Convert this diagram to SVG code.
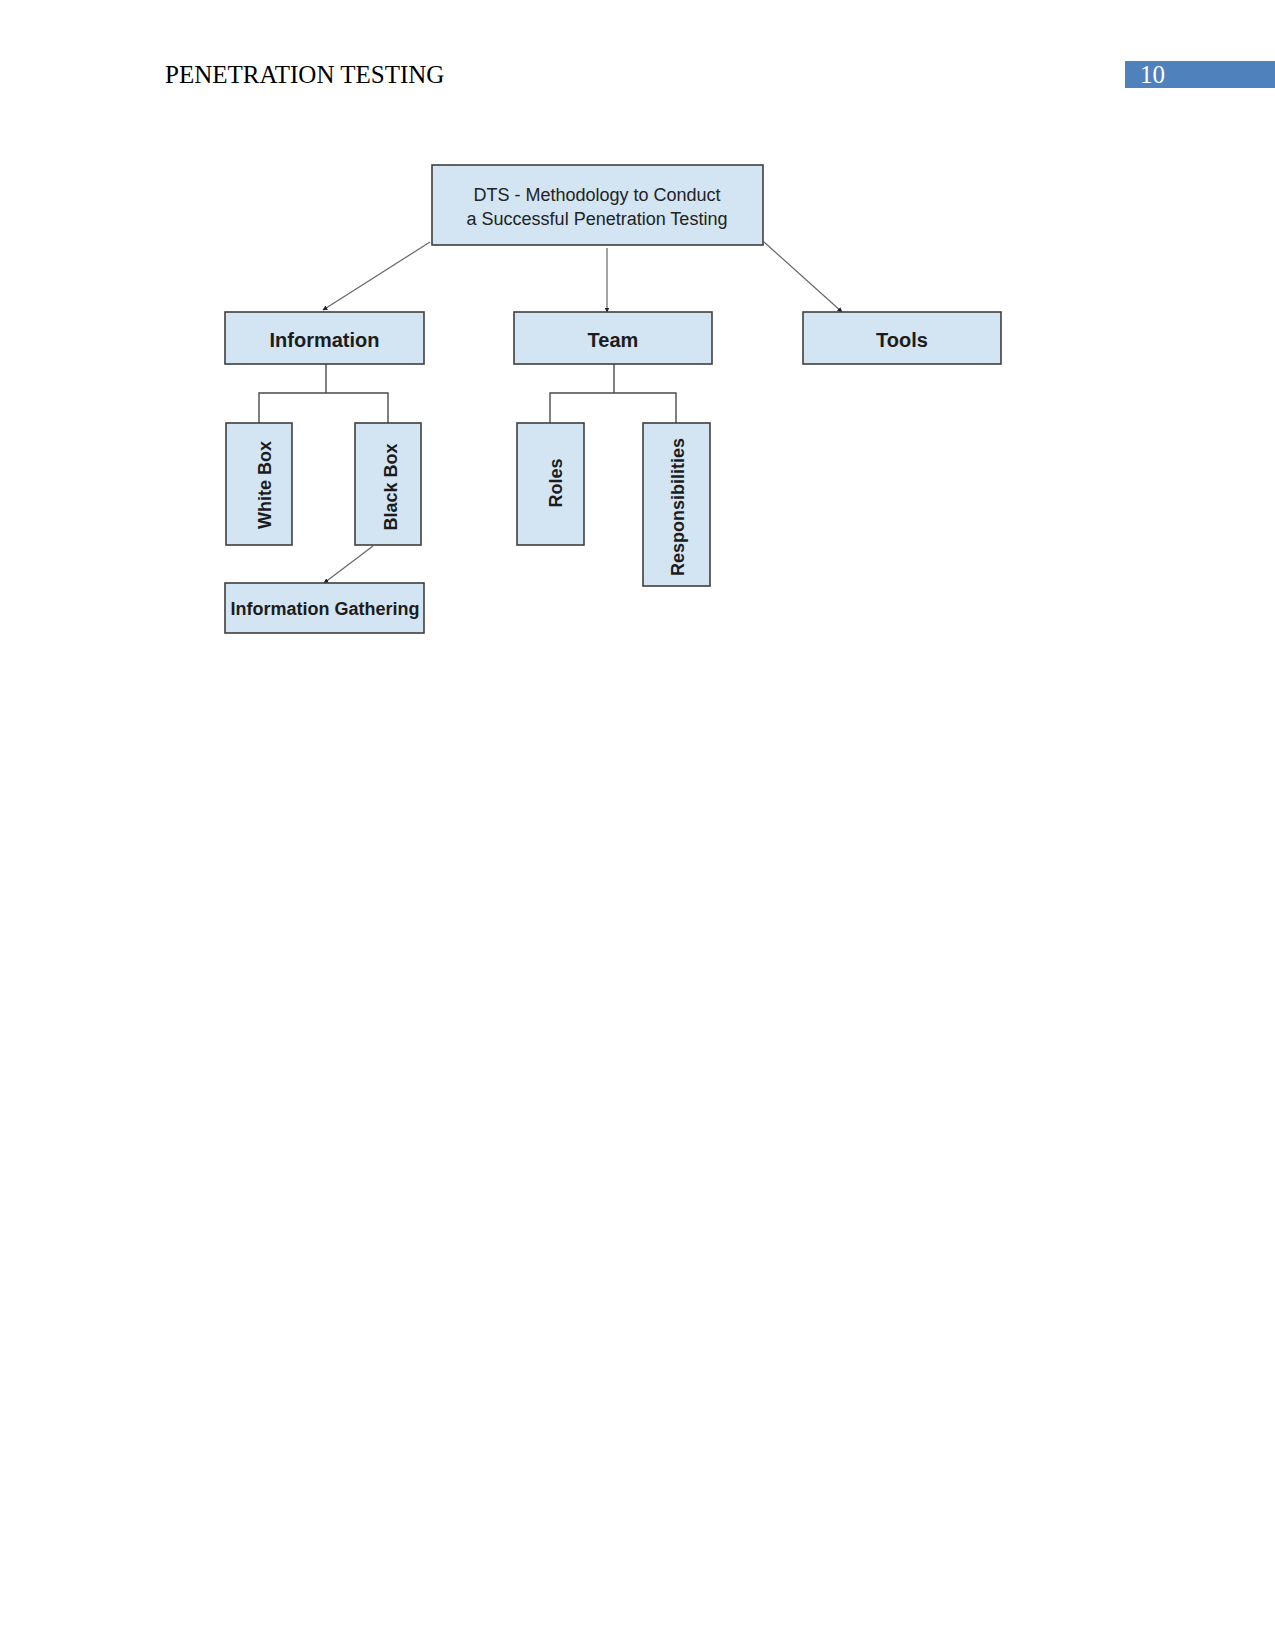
<svg xmlns="http://www.w3.org/2000/svg" width="1275" height="1650" viewBox="0 0 1275 1650">
<style>
.box{fill:#d3e5f3;stroke:#3f3f3f;stroke-width:1.6}
.lbl{font-family:"Liberation Sans",Arial,sans-serif;font-weight:bold;fill:#1c1c1c;text-anchor:middle}
.root{font-family:"Liberation Sans",Arial,sans-serif;font-size:18px;fill:#222;text-anchor:middle}
.con{fill:none;stroke:#4a4a4a;stroke-width:1.4}
.arr{fill:none;stroke:#666;stroke-width:1.2;marker-end:url(#ah)}
.hdr{font-family:"Liberation Serif","Times New Roman",serif;font-size:25px}
</style>
<defs>
<marker id="ah" viewBox="0 0 10 10" refX="9" refY="5" markerWidth="5" markerHeight="5" orient="auto" markerUnits="userSpaceOnUse">
<path d="M0,0 L10,5 L0,10 z" fill="#222"/>
</marker>
</defs>
<rect width="1275" height="1650" fill="#ffffff"/>
<g id="header">
<text class="hdr" x="165" y="83" fill="#000">PENETRATION TESTING</text>
<rect x="1125" y="61" width="150" height="27" fill="#4f81bd"/>
<text class="hdr" x="1140" y="83" fill="#ffffff">10</text>
</g>
<g id="connectors">
<line class="arr" x1="430" y1="242" x2="323" y2="310"/>
<line class="arr" x1="607" y1="248" x2="607" y2="312"/>
<line class="arr" x1="764" y1="242" x2="842" y2="312"/>
<polyline class="con" points="326,364 326,393"/>
<polyline class="con" points="259,423 259,393 388,393 388,423"/>
<polyline class="con" points="614,364 614,393"/>
<polyline class="con" points="550,423 550,393 676,393 676,423"/>
<line class="arr" x1="373" y1="546" x2="324" y2="583"/>
</g>
<g id="root">
<rect class="box" x="432" y="165" width="331" height="80"/>
<text class="root" x="597" y="201">DTS - Methodology to Conduct</text>
<text class="root" x="597" y="225">a Successful Penetration Testing</text>
</g>
<g id="information">
<rect class="box" x="225" y="312" width="199" height="52"/>
<text class="lbl" x="324.5" y="347" font-size="20">Information</text>
</g>
<g id="team">
<rect class="box" x="514" y="312" width="198" height="52"/>
<text class="lbl" x="613" y="347" font-size="20">Team</text>
</g>
<g id="tools">
<rect class="box" x="803" y="312" width="198" height="52"/>
<text class="lbl" x="902" y="347" font-size="20">Tools</text>
</g>
<g id="white-box">
<rect class="box" x="226" y="423" width="66" height="122"/>
<text class="lbl" font-size="18" transform="translate(271,485) rotate(-90)">White Box</text>
</g>
<g id="black-box">
<rect class="box" x="355" y="423" width="66" height="122"/>
<text class="lbl" font-size="18" transform="translate(397,487) rotate(-90)">Black Box</text>
</g>
<g id="roles">
<rect class="box" x="517" y="423" width="67" height="122"/>
<text class="lbl" font-size="18" transform="translate(562,483) rotate(-90)">Roles</text>
</g>
<g id="responsibilities">
<rect class="box" x="643" y="423" width="67" height="163"/>
<text class="lbl" font-size="18" transform="translate(684,507) rotate(-90)">Responsibilities</text>
</g>
<g id="information-gathering">
<rect class="box" x="225" y="583" width="199" height="50"/>
<text class="lbl" x="325" y="615" font-size="18">Information Gathering</text>
</g>
</svg>
